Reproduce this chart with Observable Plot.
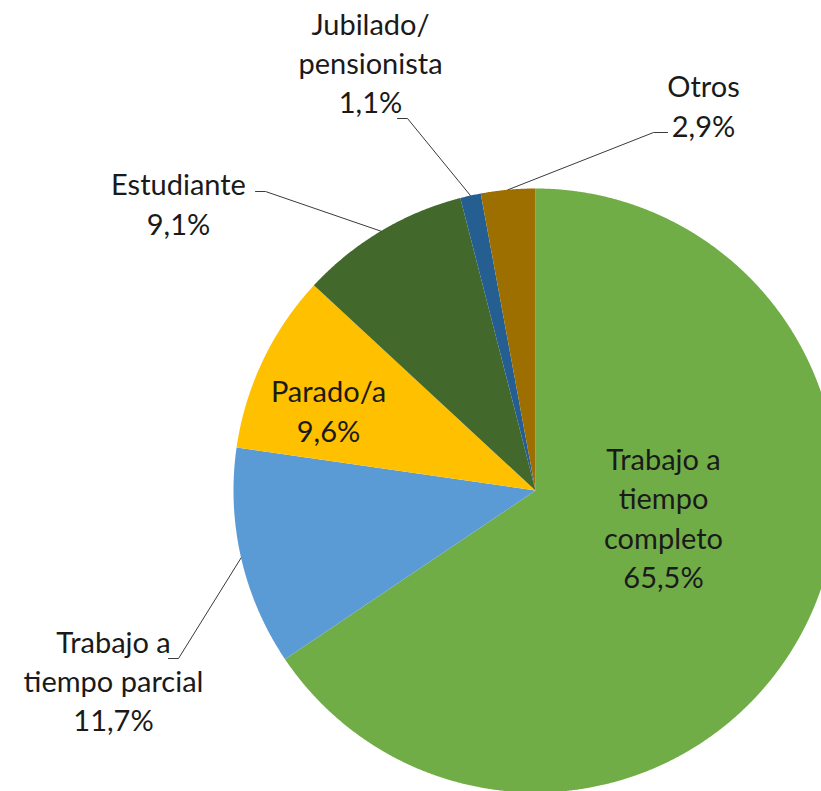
<!DOCTYPE html>
<html><head><meta charset="utf-8">
<script src="https://cdn.jsdelivr.net/npm/d3@7"></script>
<script src="https://cdn.jsdelivr.net/npm/@observablehq/plot@0.6"></script>
<style>html,body{margin:0;padding:0;overflow:hidden;background:#fff}</style>
</head><body><div id="chart"></div>
<script>
// ---- data ----
const categories = ["Trabajo a tiempo completo","Trabajo a tiempo parcial","Parado/a","Estudiante","Jubilado/pensionista","Otros"];
const values = [65.5, 11.7, 9.6, 9.1, 1.1, 2.9];
const valueLabels = ["65,5%","11,7%","9,6%","9,1%","1,1%","2,9%"];
const labelNames = ["Trabajo a\ntiempo\ncompleto","Trabajo a\ntiempo parcial","Parado/a","Estudiante","Jubilado/\npensionista","Otros"];
const colors = ["#70AD47","#5B9BD5","#FFC000","#43682B","#255E91","#9C6F00"];

// ---- layout ----
const W = 821, H = 791, cx = 535, cy = 490, R = 302;
const labelPos = [[663,516],[113,679],[328,409],[178,202],[370,61],[703,104]];
const leaderStart = [null,[168,658],null,[255,191],[397,118],[667,132]];
const leaderElbow = [null,[178,658],null,[265,191],[407,118],[653,132]];

const data = categories.map((cat, i) => ({cat, value: values[i]}));
const arcs = d3.pie().sort(null).value(d => d.value)(data);

const slicePts = arcs.flatMap(p => {
  const cat = p.data.cat;
  const pts = [{cat, x: cx, y: cy}];
  const n = Math.max(2, Math.ceil((p.endAngle - p.startAngle) / 0.004));
  for (let i = 0; i <= n; i++) {
    const a = p.startAngle + (p.endAngle - p.startAngle) * i / n;
    pts.push({cat, x: cx + R * Math.sin(a), y: cy - R * Math.cos(a)});
  }
  return pts;
});

const leaderPts = arcs.flatMap((p, i) => {
  if (!leaderStart[i]) return [];
  const a = (p.startAngle + p.endAngle) / 2;
  const cat = p.data.cat;
  return [
    {cat, x: leaderStart[i][0], y: leaderStart[i][1]},
    {cat, x: leaderElbow[i][0], y: leaderElbow[i][1]},
    {cat, x: cx + R * Math.sin(a), y: cy - R * Math.cos(a)}
  ];
});

const labels = categories.map((cat, i) => ({
  cat, x: labelPos[i][0], y: labelPos[i][1], text: labelNames[i] + "\n" + valueLabels[i]
}));

const chart = Plot.plot({
  width: W, height: H, margin: 0,
  style: {fontFamily: "Lato, sans-serif", background: "#fff"},
  x: {domain: [0, W], range: [0, W], axis: null},
  y: {domain: [0, H], range: [0, H], axis: null},
  color: {domain: categories, range: colors},
  marks: [
    Plot.line(slicePts, {x: "x", y: "y", z: "cat", fill: "cat", stroke: "none", curve: "linear"}),
    Plot.line(leaderPts, {x: "x", y: "y", z: "cat", stroke: "#3a3a3a", strokeWidth: 1}),
    Plot.text(labels, {x: "x", y: "y", text: "text", fontSize: 29, lineHeight: 1.355,
      fill: "#1a1a1a", textAnchor: "middle", lineAnchor: "middle"})
  ]
});
document.getElementById("chart").appendChild(chart);
</script>
</body></html>
